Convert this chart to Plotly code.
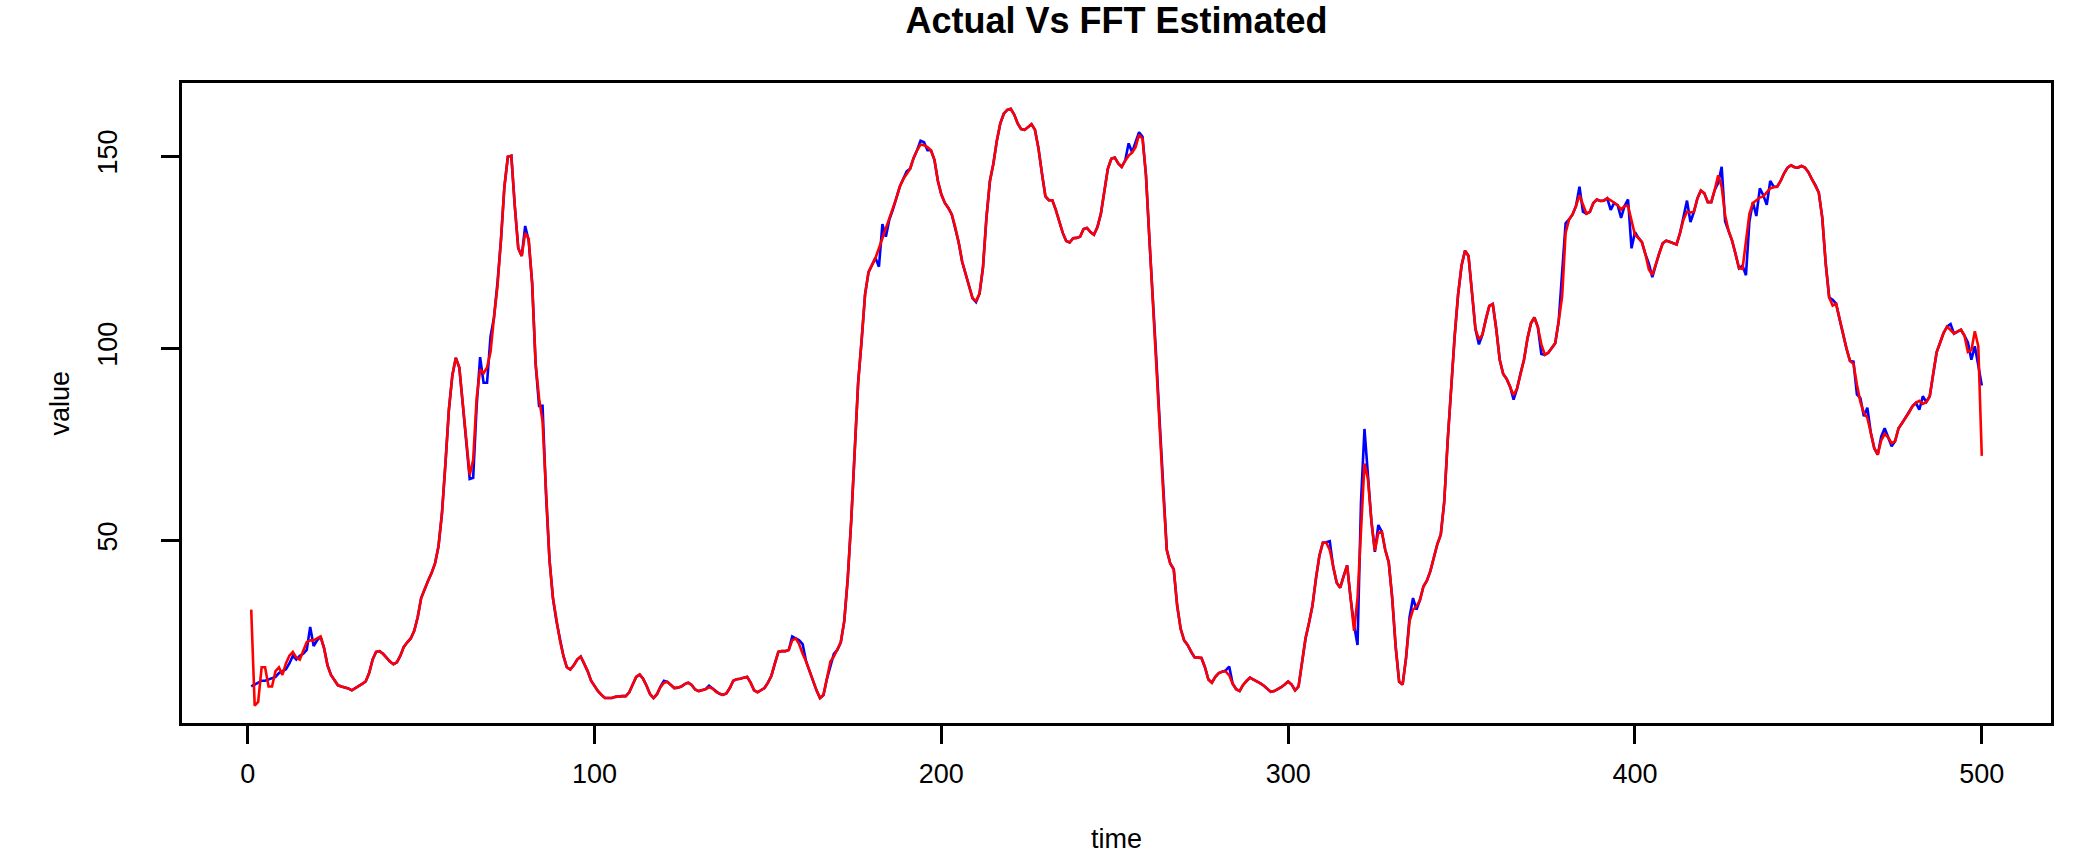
import plotly.graph_objects as go

time = list(range(1, 501))

actual = [
    12, 12.5, 13, 13.5, 13.5, 13.8, 14, 14.5, 15.5, 16,
    16.5, 18, 20, 19, 20, 20.5, 21.5, 27.5, 22.5, 24,
    25, 22, 17.5, 15, 13.5, 12.3, 12, 11.8, 11.5, 11,
    11.5, 12.2, 12.7, 13.3, 15.5, 19, 21, 21.2, 20.5, 19.5,
    18.5, 17.8, 18.3, 20, 22.3, 23.5, 24.5, 26.5, 30, 35,
    37.5, 39.5, 41.5, 44, 48.5, 57, 70, 84, 93, 97.5,
    95, 85, 75, 66, 66.3, 85, 97.7, 91, 91, 103,
    108, 117, 128, 142, 149.8, 150.1, 137, 126, 124, 131.8,
    128, 117, 96, 85, 85, 62, 45, 35, 29, 24,
    20, 17, 16.4, 17.5, 19, 19.8, 18, 16, 13.5, 12,
    10.8, 9.8, 9, 9, 9, 9.3, 9.5, 9.5, 9.5, 10.5,
    12.5, 14.5, 15.1, 14, 12.2, 10, 9, 10, 12, 13.5,
    13.2, 12.3, 11.6, 11.7, 12, 12.6, 13, 12.4, 11.2, 10.8,
    11, 11.3, 12.2, 11.5, 10.6, 10.1, 9.8, 10.2, 11.6, 13.5,
    13.9, 14, 14.3, 14.5, 13, 11, 10.5, 11, 11.6, 13,
    14.8, 18, 21, 21.2, 21.2, 21.5, 25, 24.5, 24, 23,
    18.5, 16, 13.2, 11, 9, 9.8, 14, 17.5, 20.5, 21.5,
    23.5, 29, 40, 55, 73, 91, 102, 114, 119.8, 121.7,
    123.5, 121.2, 132.3, 129, 133.5, 136, 139, 142, 144, 146,
    146.7, 149.5, 151.5, 154, 153.6, 151.5, 151.5, 149, 143.5, 140,
    137.8, 136.5, 134.8, 131.5, 127.5, 122.5, 119.5, 116, 113, 112,
    114.2, 121, 134, 143.5, 148, 154, 158.5, 161, 162, 162.3,
    160.8, 158.5, 157, 156.8, 157.6, 158.3, 156.8, 152, 145.5, 139.5,
    138.5, 138.5, 136, 133.2, 130, 127.9, 127.5, 128.6, 128.7, 129,
    131, 131.3, 130.2, 129.5, 131.5, 135, 141.4, 146.7, 149.3, 149.6,
    148.1, 147.2, 148.8, 153.3, 151, 153.5, 156.2, 155, 145, 128,
    114, 97, 80, 62, 47.5, 44, 42.5, 33, 27, 24,
    22.8, 21, 19.6, 19.5, 19.4, 17, 13.8, 13, 14.5, 15.5,
    15.9, 16.2, 17.2, 12.7, 11.3, 10.8, 12.4, 13.5, 14.3, 13.8,
    13.4, 12.8, 12.2, 11.4, 10.6, 10.8, 11.2, 11.8, 12.5, 13.3,
    12.5, 11, 12, 19, 24.5, 28.5, 33, 40, 46, 49.4,
    49.5, 49.8, 43, 39, 37.7, 40.8, 43.5, 35, 28, 22.8,
    60, 79, 68, 55, 47, 54, 52.3, 47.5, 44.3, 35,
    22.3, 13.2, 12.5, 19.5, 30, 35, 32, 34.5, 38, 39.5,
    42, 45.5, 49, 51.5, 60, 76, 91, 103, 114, 121.5,
    125.4, 124, 114.5, 105, 101, 103.5, 107.5, 111, 111.5, 105,
    97, 93.3, 92, 90, 86.6, 89.5, 93.5, 97, 102.5, 106.5,
    108, 105.5, 98.5, 98.3, 98.8, 100, 101.3, 107, 120, 132.5,
    133.5, 134.8, 137, 142, 135.5, 135, 135.5, 137.8, 138.7, 138.3,
    138.4, 139, 136, 137.8, 137.2, 133.9, 137, 138.7, 126, 130.2,
    128.7, 127.6, 124.5, 122, 118.5, 121.7, 124.8, 127.3, 128, 127.7,
    127.3, 127, 130, 134, 138.4, 132.8, 135.5, 139, 141, 140.3,
    138, 138, 141.2, 143, 147.2, 133, 130.5, 128, 124.5, 120.8,
    121.5, 119, 133, 138, 134.4, 141.6, 139.8, 137.3, 143.5, 142,
    142, 143.5, 145.5, 147, 147.6, 147.1, 147, 147.4, 147, 145.8,
    144, 142.5, 140.5, 134, 122, 113.2, 112.6, 111.6, 107.5, 103.3,
    99.9, 96.7, 96.5, 88, 87, 82.3, 84.5, 78, 74, 72.3,
    77, 79.2, 76.8, 74.5, 75.8, 79.2, 80.5, 82, 83.2, 84.9,
    85.8, 84, 87.5, 86, 87.5, 93.5, 99, 101.5, 104, 105.6,
    106.3, 103.8, 104.4, 104.8, 103.3, 101.5, 97, 100.5, 95.5, 90.3,
]

estimated = [
    32, 7, 8, 17, 17, 12, 12, 16, 17, 15,
    18, 20, 21, 19.5, 19, 21.5, 23.5, 24, 24, 24.5,
    25, 22, 17.5, 15, 13.5, 12.3, 12, 11.8, 11.5, 11,
    11.5, 12.2, 12.7, 13.3, 15.5, 19, 21, 21.2, 20.5, 19.5,
    18.5, 17.8, 18.3, 20, 22.3, 23.5, 24.5, 26.5, 30, 35,
    37.5, 39.5, 41.5, 44, 48.5, 57, 70, 84, 93, 97.5,
    95, 85, 75, 67, 71, 87, 94.5, 93.5, 95, 99,
    108, 116, 128, 142, 149.8, 150.1, 137, 126, 124, 130,
    128.5, 117, 96, 87, 81, 62, 45, 35, 29, 24,
    20, 17, 16.4, 17.5, 19, 19.8, 18, 16, 13.5, 12,
    10.8, 9.8, 9, 9, 9, 9.3, 9.5, 9.5, 9.5, 10.5,
    12.5, 14.5, 15.1, 14, 12.2, 10, 9, 10, 11.8, 13,
    13.2, 12.3, 11.6, 11.7, 12, 12.6, 13, 12.4, 11.2, 10.8,
    11, 11.3, 11.8, 11.5, 10.6, 10.1, 9.8, 10.2, 11.6, 13.5,
    13.9, 14, 14.3, 14.5, 13, 11, 10.5, 11, 11.6, 13,
    14.8, 18, 21, 21.2, 21.2, 21.5, 24, 24.5, 23, 20.5,
    18.5, 16, 13.2, 11, 9, 9.8, 14, 18.5, 19.8, 21.5,
    23.5, 29, 40, 55, 73, 91, 102, 114, 119.8, 121.7,
    123.5, 126, 128.5, 131, 133.5, 136, 139, 142, 144, 145.3,
    146.7, 149.5, 151.5, 153, 152.8, 152.3, 151.5, 149, 143.5, 140,
    137.8, 136.5, 134.8, 131.5, 127.5, 122.5, 119.5, 116, 113, 112.3,
    114.2, 121, 134, 143.5, 148, 154, 158.5, 161, 162, 162.3,
    160.8, 158.5, 157, 156.8, 157.6, 158.3, 156.8, 152, 145.5, 139.5,
    138.5, 138.5, 136, 133.2, 130, 127.9, 127.5, 128.6, 128.7, 129,
    131, 131.3, 130.2, 129.5, 131.5, 135, 141.4, 146.7, 149.3, 149.6,
    148.1, 147.2, 148.8, 150.1, 150.9, 152.3, 155.5, 154.5, 145, 128,
    114, 97, 80, 62, 47.5, 44, 42.5, 33, 27, 24,
    22.8, 21, 19.6, 19.5, 19.4, 17, 13.8, 13, 14.5, 15.5,
    15.9, 15.9, 14.9, 12.7, 11.3, 10.8, 12.4, 13.5, 14.3, 13.8,
    13.4, 12.8, 12.2, 11.4, 10.6, 10.8, 11.2, 11.8, 12.5, 13.3,
    12.5, 11, 12, 19, 24.5, 28.5, 33, 40, 46, 49.4,
    49.4, 47.5, 43, 39, 37.7, 40.8, 43.5, 35, 26.5, 35,
    53, 70, 66, 55, 47.3, 52, 52.3, 47.5, 44.3, 35,
    22.3, 13.2, 12.5, 19.5, 29, 32, 32.8, 34.5, 38, 39.5,
    42, 45.5, 49, 51.5, 60, 76, 91, 103, 114, 121.5,
    125.4, 124, 114.5, 105, 102.3, 103.5, 107.5, 111, 111.5, 105,
    97, 93.3, 92, 90, 87.8, 89.5, 93.5, 97, 102.5, 106.5,
    108, 105.5, 101, 98.3, 98.8, 100, 101.3, 107, 113.5, 130,
    133.5, 134.8, 137, 139.8, 137.3, 135, 135.5, 137.8, 138.7, 138.3,
    138.4, 139, 138.5, 137.9, 137.2, 136.1, 137, 137, 133, 129.5,
    128.7, 127.6, 124.5, 120.5, 119.1, 121.7, 124.8, 127.3, 128, 127.7,
    127.3, 127, 130, 133.5, 135.5, 135.3, 135.5, 139, 141, 140.3,
    138, 138, 141.2, 145, 142, 134.5, 130.5, 128, 124.5, 120.8,
    120.6, 127.5, 135, 137.8, 138.5, 139.2, 139.5, 140.7, 141.6, 141.9,
    142, 143.5, 145.5, 147, 147.6, 147.1, 147, 147.4, 147, 145.8,
    144, 142.5, 140.5, 134, 122, 113.2, 111.1, 111.6, 107.5, 103.3,
    99.9, 96.7, 96, 90.5, 86, 83.2, 81.9, 78, 74, 72.3,
    76, 77.7, 76.8, 75.3, 75.8, 79.2, 80.5, 82, 83.2, 84.9,
    85.8, 86.3, 85.5, 86, 87.5, 93.5, 99, 101.5, 104, 105.6,
    104.8, 103.8, 104.4, 104.8, 103.3, 99, 99.5, 104.4, 100.5, 72,
]

x_ticks = [0, 100, 200, 300, 400, 500]
y_ticks = [50, 100, 150]

FONT = "Liberation Sans, Arial, sans-serif"

fig = go.Figure()
fig.add_trace(go.Scatter(x=time, y=actual, mode="lines", name="Actual",
                         line=dict(color="#0000FF", width=2.6)))
fig.add_trace(go.Scatter(x=time, y=estimated, mode="lines", name="FFT Estimated",
                         line=dict(color="#FF0000", width=2.6)))

axis_common = dict(
    showgrid=False, zeroline=False, showline=True, mirror=True,
    linecolor="black", linewidth=2.5, ticks="outside", ticklen=18,
    tickwidth=2.5, tickcolor="black",
    tickfont=dict(family=FONT, size=27, color="black"),
)

fig.update_layout(
    width=2079, height=855,
    margin=dict(l=182, r=28, t=83, b=132),
    paper_bgcolor="white", plot_bgcolor="white",
    showlegend=False,
    title=dict(text="<b>Actual Vs FFT Estimated</b>", xref="paper", x=0.5,
               xanchor="center", yref="container", y=0.976, yanchor="middle",
               font=dict(family=FONT, size=36, color="black")),
    xaxis=dict(range=[-18.96, 519.96], tickvals=x_ticks, ticklabelstandoff=7,
               **axis_common),
    yaxis=dict(range=[2.5, 169], tickvals=y_ticks, tickangle=-90,
               ticklabelstandoff=33, **axis_common),
    annotations=[
        dict(text="time", xref="paper", yref="paper", x=0.5, y=-0.182,
             xanchor="center", yanchor="middle", showarrow=False,
             font=dict(family=FONT, size=27, color="black")),
        dict(text="value", xref="paper", yref="paper", x=-0.0655, y=0.5,
             xanchor="center", yanchor="middle", showarrow=False, textangle=-90,
             font=dict(family=FONT, size=27, color="black")),
    ],
)

# remove the page's default body margin so the figure fills the window exactly
fig.write_html(
    "out.html",
    config={"displayModeBar": False},
    post_script="document.body.style.margin='0';document.body.style.overflow='hidden';",
)
